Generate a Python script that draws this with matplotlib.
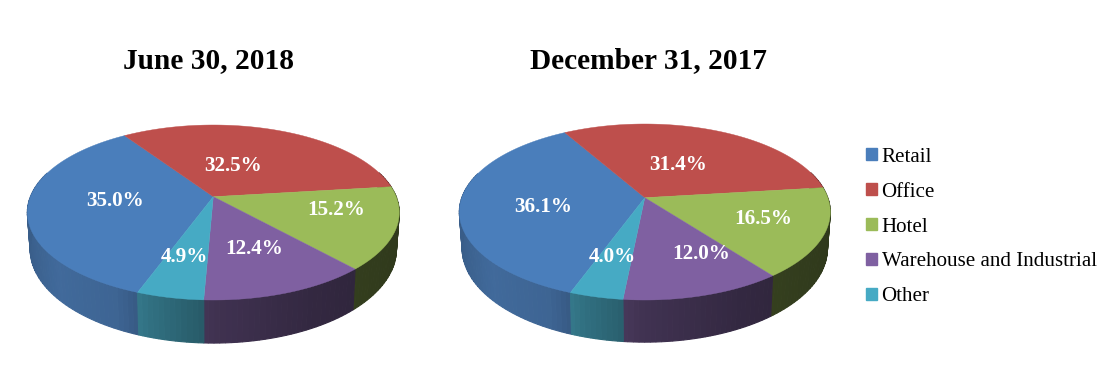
import matplotlib
matplotlib.use("Agg")
import matplotlib.pyplot as plt
import numpy as np
from matplotlib.patches import Patch

plt.rcParams["font.family"] = ["Liberation Serif", "DejaVu Serif"]

categories = ["Retail", "Office", "Hotel", "Warehouse and Industrial", "Other"]
values_2018 = [35.0, 32.5, 15.2, 12.4, 4.9]
values_2017 = [36.1, 31.4, 16.5, 12.0, 4.0]
titles = ["June 30, 2018", "December 31, 2017"]

colors = ["#4a7ebb", "#be4f4c", "#9bbb59", "#7f60a1", "#46aac4"]
wall_colors = ["#4f81bd", "#c0504d", "#8aa650", "#8064a2", "#4bacc6"]

# label centres in picture pixels, same order as categories
labels_2018 = [(115, 201), (233, 166), (336, 210), (254, 249), (184, 257)]
labels_2017 = [(543, 207), (678, 165), (763, 219), (701, 254), (612, 257)]


def project(theta, cx, cy, top, bottom, radius):
    # perspective view of a flat disc, theta is clockwise from the back
    c = (2 * cy - top - bottom) / (top - bottom)
    b = top * (1 + c) - cy
    x = np.sin(theta)
    y = np.cos(theta)
    den = 1 + c * y
    return cx + radius * x / den, (cy + b * y) / den, den


def wall_shade(nx):
    # Excel style lighting on the side of the pie
    return np.interp(nx, [-1.0, -0.75, -0.45, -0.3, 0.0, 0.45, 0.8, 1.0],
                     [0.72, 0.82, 0.78, 0.66, 0.50, 0.40, 0.36, 0.34])


def draw_pie(ax, values, label_xy, retail_end, cx, cy, top, bottom, radius, depth):
    vals = np.array(values)
    shares = vals / vals.sum() * 360
    edges = retail_end - shares[0] + np.concatenate([[0], np.cumsum(shares)])

    # side wall first, the top face covers what is left of it
    for i in range(len(vals)):
        steps = np.arange(edges[i], edges[i + 1], 1.5)
        steps = np.append(steps, edges[i + 1])
        for a0, a1 in zip(steps[:-1], steps[1:]):
            t = np.radians(np.linspace(a0, a1, 3))
            if np.cos(t[1]) > 0.3:  # back of the pie, never seen
                continue
            x, y, den = project(t, cx, cy, top, bottom, radius)
            xb = cx + (x - cx) * 0.985
            yb = y + depth / den
            shade = wall_shade(np.sin(t[1]))
            rgb = np.array(matplotlib.colors.to_rgb(wall_colors[i])) * shade
            ax.fill(np.r_[x, xb[::-1]], np.r_[y, yb[::-1]], color=rgb, lw=0.8, zorder=2)

    # top face
    for i in range(len(vals)):
        t = np.radians(np.linspace(edges[i], edges[i + 1], 120))
        x, y, _ = project(t, cx, cy, top, bottom, radius)
        ax.fill(np.r_[cx, x], np.r_[cy, y], color=colors[i], lw=0.3, zorder=3)

    for v, (lx, ly) in zip(vals, label_xy):
        ax.text(lx, ly, f"{v:.1f}%", color="white", fontsize=15.2, fontweight="bold",
                ha="center", va="center", zorder=5)


fig = plt.figure(figsize=(11.10, 3.89), dpi=100)
ax = fig.add_axes([0, 0, 1, 1])
ax.set_xlim(0, 1110)
ax.set_ylim(389, 0)
ax.axis("off")

draw_pie(ax, values_2018, labels_2018, -33.9, 213.3, 196.7, 125, 300, 182.9, 35.3)
draw_pie(ax, values_2017, labels_2017, -29.9, 644.8, 197.7, 124, 300, 183.0, 35.3)

ax.text(208.7, 60.5, titles[0], fontsize=21.2, fontweight="bold", ha="center", va="center")
ax.text(648, 60.5, titles[1], fontsize=21.2, fontweight="bold", ha="center", va="center")

handles = [Patch(color=c) for c in colors]
ax.legend(handles, categories, loc="center left", bbox_to_anchor=(866, 227),
          bbox_transform=ax.transData, frameon=False, fontsize=15.1, handlelength=0.52,
          handleheight=0.52, handletextpad=0.22, labelspacing=0.76, borderpad=0, borderaxespad=0)

fig.savefig("out.png", dpi=100)
